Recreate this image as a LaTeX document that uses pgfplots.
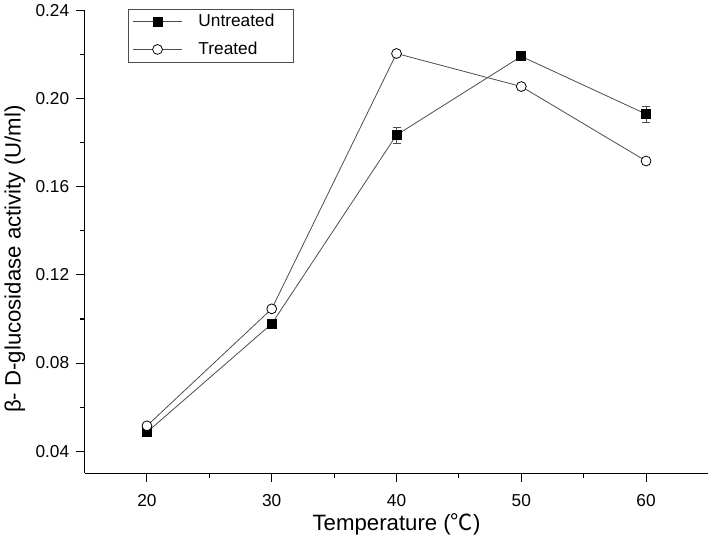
\documentclass[border=0pt]{standalone}
\usepackage{fontspec}
\setmainfont{Liberation Sans}
\newfontfamily\cjk{Noto Sans CJK SC}
\usepackage{pgfplots}
\pgfplotsset{compat=1.18}
\definecolor{ln}{gray}{0.3}
\begin{document}
\begin{tikzpicture}
\begin{axis}[
  scale only axis,
  width=469.3pt, height=348pt,
  xmin=15, xmax=65, ymin=0.03, ymax=0.24,
  xtick={20,30,40,50,60},
  ytick={0.04,0.08,0.12,0.16,0.20,0.24},
  minor x tick num=1, minor y tick num=1,
  axis x line*=bottom, axis y line*=left,
  axis line style={-, line width=0.8pt, black},
  tick align=outside,
  major tick length=6.5pt, minor tick length=3.5pt,
  every major tick/.append style={black, line width=0.8pt},
  every minor tick/.append style={black, line width=0.8pt},
  tick label style={font=\fontsize{13}{15}\selectfont},
  /pgf/number format/assume math mode=true,
  yticklabel style={xshift=-1.5pt, /pgf/number format/.cd, fixed, fixed zerofill, precision=2},
  xticklabel style={yshift=-6pt},
  xlabel={Temperature ({\cjk ℃})},
  ylabel={β- D-glucosidase activity (U/ml)},
  label style={font=\fontsize{16.7}{18}\selectfont},
  xlabel style={yshift=2pt},
  ylabel style={yshift=1pt, xshift=-13pt},
  legend style={at={(axis description cs:0.070,1.004)}, anchor=north west,
    draw=ln, line width=0.5pt, font=\fontsize{13}{15}\selectfont,
    inner xsep=3pt, inner ysep=2pt, row sep=6pt, column sep=10pt,
    cells={anchor=west}},
  legend image code/.code={\draw[mark repeat=2,mark phase=2,#1] plot coordinates {(0cm,0cm) (0.65cm,0cm) (1.3cm,0cm)};},
]
\addplot[ln, line width=0.6pt, mark=square*, mark size=3.4pt,
  mark options={fill=black, draw=black, solid},
  error bars/.cd, y dir=both, y explicit,
  error bar style={ln, line width=0.5pt},
  error mark options={rotate=90, mark size=3pt, ln, line width=0.5pt}]
  coordinates {
    (20,0.0486) +- (0,0.0010)
    (30,0.0978) +- (0,0.0008)
    (40,0.1835) +- (0,0.0037)
    (50,0.2192) +- (0,0.0010)
    (60,0.1930) +- (0,0.0036)
  };
\addlegendentry{Untreated\kern9pt}
\addplot[ln, line width=0.6pt, mark=*, mark size=3.7pt,
  mark options={fill=white, draw=black, line width=0.6pt, solid},
  error bars/.cd, y dir=both, y explicit,
  error bar style={ln, line width=0.5pt},
  error mark options={rotate=90, mark size=3pt, ln, line width=0.5pt}]
  coordinates {
    (20,0.0515) +- (0,0.0012)
    (30,0.1046) +- (0,0.0010)
    (40,0.2205) +- (0,0.0010)
    (50,0.2055) +- (0,0.0012)
    (60,0.1717) +- (0,0.0012)
  };
\addlegendentry{Treated}
\end{axis}
% overlay axis drawing the major tick marks
\begin{axis}[
  scale only axis,
  width=469.3pt, height=348pt,
  xmin=15, xmax=65, ymin=0.03, ymax=0.24,
  axis x line*=bottom, axis y line*=left,
  axis line style={draw=none},
  xtick=\empty, ytick=\empty,
  minor xtick={20,30,40,50,60},
  minor ytick={0.04,0.08,0.12,0.16,0.20,0.24},
  tick align=outside,
  minor tick length=6.5pt,
  every minor tick/.append style={black, line width=0.8pt},
]
\end{axis}
\end{tikzpicture}
\end{document}
